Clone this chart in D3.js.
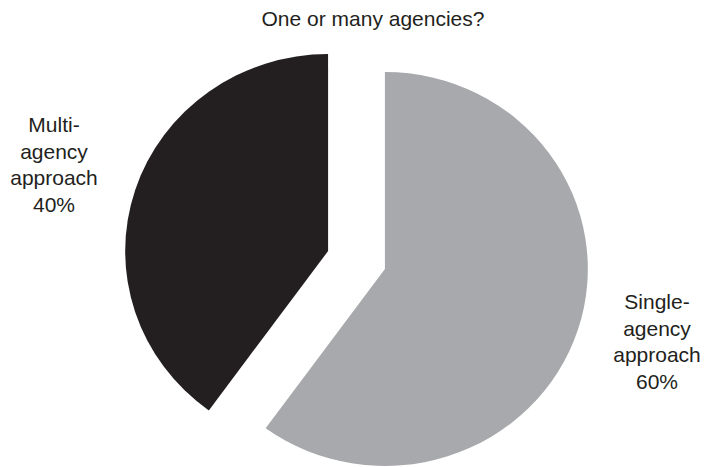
<!DOCTYPE html>
<html>
<head>
<meta charset="utf-8">
<script src="https://cdn.jsdelivr.net/npm/d3@7"></script>
<style>
  html, body { margin: 0; padding: 0; background: #fff; }
  svg { display: block; }
  text { font-family: "Liberation Sans", Arial, Helvetica, sans-serif; fill: #231f20; }
</style>
</head>
<body>
<svg id="chart" width="705" height="467"></svg>
<script>
// Survey result: single vs multi-agency approach
const title = "One or many agencies?";
const categories = ["Single-agency approach", "Multi-agency approach"];
const labelLines = [["Single-", "agency", "approach"], ["Multi-", "agency", "approach"]];
const values = [60, 40];
const colors = ["#a7a9ac", "#231f20"];

const width = 705, height = 467;
const cx = 356.5, cy = 260;       // pie centre before slices are pulled apart
const radius = 197;
const stretchX = 1.03;            // pie is drawn slightly wider than tall
const explode = 29;               // distance each slice is pushed out along its bisector
const fontSize = 21;
const lineHeight = 26.5;
// label block anchors (centre x, first baseline y)
const labelAnchors = [[657, 309], [54, 132]];

const svg = d3.select("#chart");

svg.append("text")
  .attr("x", 373)
  .attr("y", 26)
  .attr("text-anchor", "middle")
  .style("font-size", fontSize + "px")
  .text(title);

const data = categories.map((c, i) => ({ name: c, value: values[i], color: colors[i], lines: labelLines[i] }));

const pie = d3.pie().value(d => d.value).sort(null);
const arc = d3.arc().innerRadius(0).outerRadius(radius);
const arcs = pie(data);

const g = svg.append("g").attr("transform", `translate(${cx},${cy}) scale(${stretchX},1)`);

g.selectAll("path")
  .data(arcs)
  .join("path")
  .attr("fill", d => d.data.color)
  .attr("transform", d => {
    const mid = (d.startAngle + d.endAngle) / 2;
    return `translate(${explode * Math.sin(mid)},${-explode * Math.cos(mid)})`;
  })
  .attr("d", arc);

arcs.forEach((d, i) => {
  const [ax, ay] = labelAnchors[i];
  const t = svg.append("text")
    .attr("text-anchor", "middle")
    .style("font-size", fontSize + "px");
  const lines = d.data.lines.concat([d.data.value + "%"]);
  lines.forEach((ln, j) => {
    t.append("tspan").attr("x", ax).attr("y", ay + j * lineHeight).text(ln);
  });
});
</script>
</body>
</html>
